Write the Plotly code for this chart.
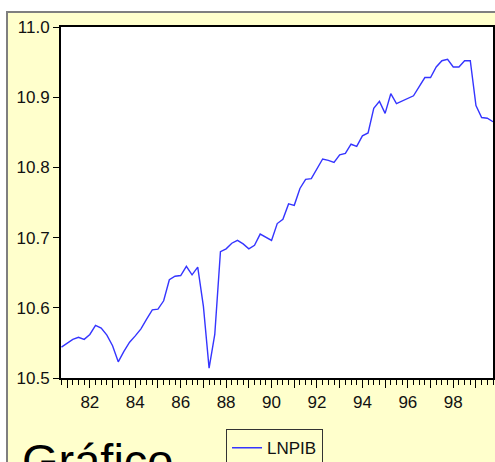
import plotly.graph_objects as go

# quarterly observations, 1980Q4 - 1999Q4
start_year = 1980
start_quarter = 4
lnpib = [
    10.544, 10.550, 10.555, 10.558, 10.555, 10.562, 10.575, 10.571, 10.561, 10.546,
    10.523, 10.538, 10.551, 10.560, 10.570, 10.584, 10.597, 10.598, 10.610, 10.640,
    10.645, 10.646, 10.659, 10.647, 10.658, 10.602, 10.514, 10.562, 10.680, 10.684,
    10.692, 10.696, 10.691, 10.684, 10.689, 10.705, 10.700, 10.696, 10.720, 10.726,
    10.748, 10.746, 10.770, 10.783, 10.784, 10.799, 10.812, 10.810, 10.807, 10.818,
    10.820, 10.833, 10.830, 10.845, 10.849, 10.884, 10.894, 10.877, 10.905, 10.891,
    10.895, 10.899, 10.902, 10.915, 10.928, 10.928, 10.943, 10.952, 10.954, 10.943,
    10.943, 10.952, 10.952, 10.888, 10.871, 10.870, 10.865,
]
year_ticks = list(range(1981, 2000))
year_labels = ["" if y % 2 else str(y)[2:] for y in year_ticks]
y_ticks = [10.5, 10.6, 10.7, 10.8, 10.9, 11.0]

t = [start_year + (start_quarter - 1) / 4 + i / 4 for i in range(len(lnpib))]

BG = "#FFFFCC"
FONT = "Arial, Liberation Sans, sans-serif"

fig = go.Figure()
fig.add_trace(go.Scatter(
    x=t,
    y=lnpib,
    mode="lines",
    name="LNPIB",
    line=dict(color="#3535ff", width=1.4),
))

# yellow EViews-style frame, then a white plotting area on top of it
fig.add_shape(
    type="rect", xref="paper", yref="paper",
    x0=-0.125, x1=1.2, y0=-0.4, y1=1.0427,
    fillcolor=BG, line=dict(color="#7f7f7f", width=2), layer="below",
)
fig.add_shape(
    type="rect", xref="paper", yref="paper",
    x0=0, x1=1, y0=0, y1=1,
    fillcolor="white", line=dict(width=0), layer="below",
)

fig.add_annotation(
    text="Gráfico", xref="paper", yref="paper",
    x=-0.095, y=-0.154, xanchor="left", yanchor="top",
    showarrow=False, font=dict(family=FONT, size=47, color="black"),
)

fig.update_layout(
    width=495,
    height=462,
    margin=dict(l=61, r=2, t=27, b=84, autoexpand=False),
    paper_bgcolor="white",
    plot_bgcolor="white",
    font=dict(family=FONT, size=17, color="#111111"),
    showlegend=True,
    legend=dict(
        x=0.382, y=-0.146, xanchor="left", yanchor="top",
        bgcolor=BG, bordercolor="#333333", borderwidth=1,
        font=dict(family=FONT, size=17),
        itemwidth=30,
    ),
    xaxis=dict(
        range=[t[0] - 0.02, t[-1]],
        tickvals=year_ticks, ticktext=year_labels,
        ticks="outside", ticklen=8, tickwidth=1, tickcolor="black",
        minor=dict(dtick=0.25, tick0=1981, ticks="outside", ticklen=5, tickcolor="black"),
        showgrid=False, zeroline=False,
        showline=True, linecolor="black", linewidth=2, mirror=True,
    ),
    yaxis=dict(
        range=[10.5, 11.0],
        tickvals=y_ticks, tickformat=".1f",
        ticks="outside", ticklen=6, tickwidth=1, tickcolor="black",
        showgrid=False, zeroline=False,
        showline=True, linecolor="black", linewidth=2, mirror=True,
    ),
)

# drop the default page margin so the figure fills the window exactly
fig.write_html(
    "out.html",
    config={"displayModeBar": False},
    post_script="document.body.style.margin='0';",
)
